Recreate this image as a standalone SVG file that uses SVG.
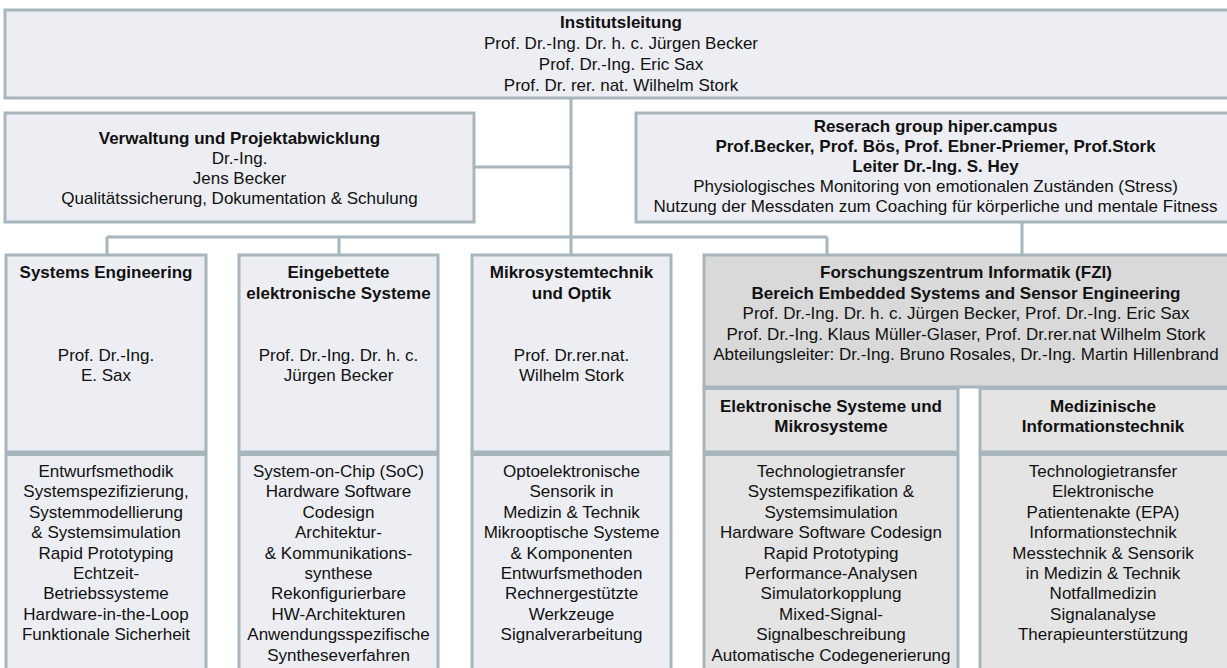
<svg xmlns="http://www.w3.org/2000/svg" width="1227" height="668" viewBox="0 0 1227 668">
<style>
text{font-family:"Liberation Sans",Arial,sans-serif;font-size:17px;fill:#111;text-anchor:middle}
.b{font-weight:bold}
.box{fill:#EDEEF3;stroke:#A7B5BC;stroke-width:3}
.fzi{fill:#D9D9D9;stroke:#A7B5BC;stroke-width:3}
.sub{fill:#E4E4E4;stroke:#A7B5BC;stroke-width:3}
.c{fill:none;stroke:#A7B5BC;stroke-width:3}
</style>
<rect x="0" y="0" width="1227" height="668" fill="#fff"/>
<g id="connectors">
<line class="c" x1="571" y1="98" x2="571" y2="255"/>
<line class="c" x1="474" y1="167" x2="571" y2="167"/>
<line class="c" x1="107" y1="237" x2="827" y2="237"/>
<line class="c" x1="107" y1="237" x2="107" y2="255"/>
<line class="c" x1="339" y1="237" x2="339" y2="255"/>
<line class="c" x1="827" y1="237" x2="827" y2="255"/>
<line class="c" x1="1022" y1="222" x2="1022" y2="255"/>
</g>
<g id="institutsleitung">
<rect class="box" x="5" y="10" width="1232" height="88"/>
<text class="b" x="621" y="27.5">Institutsleitung</text>
<text x="621" y="48.5">Prof. Dr.-Ing. Dr. h. c. Jürgen Becker</text>
<text x="621" y="69.5">Prof. Dr.-Ing. Eric Sax</text>
<text x="621" y="90.5">Prof. Dr. rer. nat. Wilhelm Stork</text>
</g>
<g id="verwaltung">
<rect class="box" x="5" y="113" width="469" height="109"/>
<text class="b" x="239.5" y="144">Verwaltung und Projektabwicklung</text>
<text x="239.5" y="164">Dr.-Ing.</text>
<text x="239.5" y="184">Jens Becker</text>
<text x="239.5" y="204">Qualitätssicherung, Dokumentation &amp; Schulung</text>
</g>
<g id="hipercampus">
<rect class="box" x="636" y="113" width="600" height="109"/>
<text class="b" x="935.5" y="132">Reserach group hiper.campus</text>
<text class="b" x="935.5" y="152">Prof.Becker, Prof. Bös, Prof. Ebner-Priemer, Prof.Stork</text>
<text class="b" x="935.5" y="172">Leiter Dr.-Ing. S. Hey</text>
<text x="935.5" y="192">Physiologisches Monitoring von emotionalen Zuständen (Stress)</text>
<text x="935.5" y="212">Nutzung der Messdaten zum Coaching für körperliche und mentale Fitness</text>
</g>
<g id="systems-engineering">
<rect class="box" x="6" y="255" width="200" height="197"/>
<rect class="box" x="6" y="454.5" width="200" height="240"/>
<text class="b" x="106" y="278">Systems Engineering</text>
<text x="106" y="360.5">Prof. Dr.-Ing.</text>
<text x="106" y="381">E. Sax</text>
<text x="106" y="477">Entwurfsmethodik</text>
<text x="106" y="497.4">Systemspezifizierung,</text>
<text x="106" y="517.8">Systemmodellierung</text>
<text x="106" y="538.2">&amp; Systemsimulation</text>
<text x="106" y="558.6">Rapid Prototyping</text>
<text x="106" y="579">Echtzeit-</text>
<text x="106" y="599.4">Betriebssysteme</text>
<text x="106" y="619.8">Hardware-in-the-Loop</text>
<text x="106" y="640.2">Funktionale Sicherheit</text>
</g>
<g id="eingebettete">
<rect class="box" x="239" y="255" width="199" height="197"/>
<rect class="box" x="239" y="454.5" width="199" height="240"/>
<text class="b" x="338.5" y="278">Eingebettete</text>
<text class="b" x="338.5" y="298.5">elektronische Systeme</text>
<text x="338.5" y="360.5">Prof. Dr.-Ing. Dr. h. c.</text>
<text x="338.5" y="381">Jürgen Becker</text>
<text x="338.5" y="477">System-on-Chip (SoC)</text>
<text x="338.5" y="497.4">Hardware Software</text>
<text x="338.5" y="517.8">Codesign</text>
<text x="338.5" y="538.2">Architektur-</text>
<text x="338.5" y="558.6">&amp; Kommunikations-</text>
<text x="338.5" y="579">synthese</text>
<text x="338.5" y="599.4">Rekonfigurierbare</text>
<text x="338.5" y="619.8">HW-Architekturen</text>
<text x="338.5" y="640.2">Anwendungsspezifische</text>
<text x="338.5" y="660.6">Syntheseverfahren</text>
</g>
<g id="mikrosystemtechnik">
<rect class="box" x="472" y="255" width="199" height="197"/>
<rect class="box" x="472" y="454.5" width="199" height="240"/>
<text class="b" x="571.5" y="278">Mikrosystemtechnik</text>
<text class="b" x="571.5" y="298.5">und Optik</text>
<text x="571.5" y="360.5">Prof. Dr.rer.nat.</text>
<text x="571.5" y="381">Wilhelm Stork</text>
<text x="571.5" y="477">Optoelektronische</text>
<text x="571.5" y="497.4">Sensorik in</text>
<text x="571.5" y="517.8">Medizin &amp; Technik</text>
<text x="571.5" y="538.2">Mikrooptische Systeme</text>
<text x="571.5" y="558.6">&amp; Komponenten</text>
<text x="571.5" y="579">Entwurfsmethoden</text>
<text x="571.5" y="599.4">Rechnergestützte</text>
<text x="571.5" y="619.8">Werkzeuge</text>
<text x="571.5" y="640.2">Signalverarbeitung</text>
</g>
<g id="fzi">
<rect class="fzi" x="704" y="255" width="540" height="132"/>
<text class="b" x="966" y="278">Forschungszentrum Informatik (FZI)</text>
<text class="b" x="966" y="298.5">Bereich Embedded Systems and Sensor Engineering</text>
<text x="966" y="319">Prof. Dr.-Ing. Dr. h. c. Jürgen Becker, Prof. Dr.-Ing. Eric Sax</text>
<text x="966" y="339.5">Prof. Dr.-Ing. Klaus Müller-Glaser, Prof. Dr.rer.nat Wilhelm Stork</text>
<text x="966" y="360">Abteilungsleiter: Dr.-Ing. Bruno Rosales, Dr.-Ing. Martin Hillenbrand</text>
</g>
<g id="elektronische-systeme">
<rect class="sub" x="704" y="388.5" width="254" height="63.5"/>
<rect class="sub" x="704" y="454.5" width="254" height="240"/>
<text class="b" x="831" y="411.5">Elektronische Systeme und</text>
<text class="b" x="831" y="431.5">Mikrosysteme</text>
<text x="831" y="477">Technologietransfer</text>
<text x="831" y="497.4">Systemspezifikation &amp;</text>
<text x="831" y="517.8">Systemsimulation</text>
<text x="831" y="538.2">Hardware Software Codesign</text>
<text x="831" y="558.6">Rapid Prototyping</text>
<text x="831" y="579">Performance-Analysen</text>
<text x="831" y="599.4">Simulatorkopplung</text>
<text x="831" y="619.8">Mixed-Signal-</text>
<text x="831" y="640.2">Signalbeschreibung</text>
<text x="831" y="660.6">Automatische Codegenerierung</text>
</g>
<g id="medizinische-informationstechnik">
<rect class="sub" x="980" y="388.5" width="260" height="63.5"/>
<rect class="sub" x="980" y="454.5" width="260" height="240"/>
<text class="b" x="1103" y="411.5">Medizinische</text>
<text class="b" x="1103" y="431.5">Informationstechnik</text>
<text x="1103" y="477">Technologietransfer</text>
<text x="1103" y="497.4">Elektronische</text>
<text x="1103" y="517.8">Patientenakte (EPA)</text>
<text x="1103" y="538.2">Informationstechnik</text>
<text x="1103" y="558.6">Messtechnik &amp; Sensorik</text>
<text x="1103" y="579">in Medizin &amp; Technik</text>
<text x="1103" y="599.4">Notfallmedizin</text>
<text x="1103" y="619.8">Signalanalyse</text>
<text x="1103" y="640.2">Therapieunterstützung</text>
</g>
</svg>
